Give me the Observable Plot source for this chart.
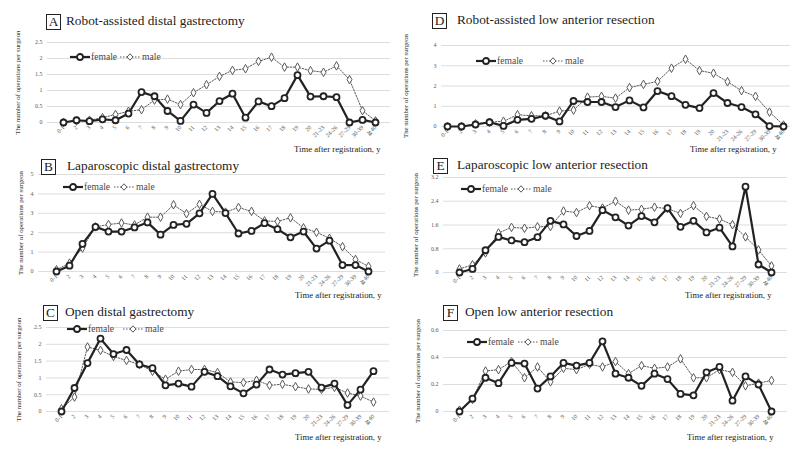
<!DOCTYPE html>
<html>
<head>
<meta charset="utf-8">
<script src="https://cdn.jsdelivr.net/npm/d3@7"></script>
<script src="https://cdn.jsdelivr.net/npm/@observablehq/plot@0.6"></script>
<style>
  html, body { margin: 0; padding: 0; background: white; }
  #root { position: relative; width: 800px; height: 450px; overflow: hidden; font-family: "Liberation Serif", "Times New Roman", serif; color: #222; }
  #root svg, #root svg text { font-family: "Liberation Serif", "Times New Roman", serif !important; }
  .tbox { position: absolute; border: 1px solid #222; width: 13px; height: 14px; font-size: 13.3px; line-height: 14px; text-align: center; }
  .ttl { position: absolute; font-size: 13.3px; line-height: 14px; white-space: nowrap; }
  .xt { position: absolute; font-size: 8.7px; line-height: 9px; white-space: nowrap; color: #222; }
  .leg { position: absolute; display: flex; align-items: center; font-family: "Liberation Serif", serif; font-weight: normal; font-size: 9.6px; line-height: 10px; white-space: nowrap; color: #4a4a4a; }
  .plot-wrap { position: absolute; }
</style>
</head>
<body>
<div id="root"></div>
<script>
const cats = ["0-1","2","3","4","5","6","7","8","9","10","11","12","13","14","15","16","17","18","19","20","21-23","24-26","27-29","30-39","≧40"];

const aFemale = [0,0.07,0.04,0.1,0.07,0.28,0.95,0.82,0.36,0.05,0.56,0.3,0.67,0.9,0.15,0.66,0.51,0.76,1.48,0.81,0.82,0.79,0,0.08,0];
const aMale   = [0,0.05,0.07,0.15,0.25,0.35,0.4,0.7,0.73,0.56,0.93,1.18,1.44,1.63,1.68,1.91,2.04,1.73,1.73,1.62,1.57,1.77,1.34,0.37,0.05];

const bFemale = [0,0.3,1.42,2.3,2.06,2.06,2.27,2.53,1.9,2.4,2.46,3.0,4.0,3.01,1.96,2.09,2.49,2.18,1.76,2.06,1.18,1.59,0.33,0.33,0];
const bMale   = [0.09,0.43,1.21,2.3,2.42,2.5,2.4,2.8,2.8,3.44,2.98,3.46,3.1,3.06,3.3,3.1,2.61,2.58,2.77,2.25,2.02,1.71,1.28,0.62,0.26];

const cFemale = [0,0.7,1.44,2.17,1.71,1.83,1.4,1.29,0.78,0.83,0.74,1.18,1.05,0.75,0.54,0.8,1.25,1.1,1.14,1.18,0.71,0.83,0.19,0.65,1.2];
const cMale   = [0.08,0.43,1.92,1.82,1.64,1.52,1.4,1.2,0.96,1.2,1.25,1.25,1.16,0.88,0.86,0.93,0.78,0.81,0.74,0.67,0.66,0.72,0.55,0.46,0.28];

const dFemale = [0,0,0.1,0.21,0.03,0.33,0.38,0.53,0.25,1.26,1.21,1.21,0.96,1.29,0.94,1.75,1.5,1.07,0.91,1.65,1.16,0.96,0.6,0.02,0];
const dMale   = [0,0,0.13,0.21,0.26,0.58,0.53,0.53,0.76,0.81,1.45,1.49,1.4,1.92,2.08,2.23,2.88,3.32,2.76,2.63,2.21,1.77,1.49,0.71,0.07];

const eFemale = [0,0.12,0.75,1.2,1.08,1.02,1.19,1.74,1.62,1.23,1.4,2.1,1.86,1.58,1.9,1.69,2.17,1.54,1.74,1.35,1.51,0.88,2.89,0.27,0];
const eMale   = [0.12,0.26,0.66,1.33,1.52,1.49,1.54,1.55,2.07,2.02,2.25,2.17,2.4,2.1,2.13,2.2,2.15,1.99,2.25,1.89,1.8,1.61,1.2,0.76,0.22];

const fFemale = [0,0.095,0.25,0.21,0.36,0.355,0.17,0.26,0.36,0.34,0.36,0.52,0.28,0.25,0.19,0.28,0.24,0.13,0.12,0.29,0.33,0.08,0.26,0.2,0];
const fMale   = [0.01,0.09,0.3,0.31,0.37,0.25,0.33,0.22,0.32,0.31,0.35,0.33,0.37,0.28,0.34,0.32,0.33,0.39,0.25,0.25,0.31,0.29,0.19,0.21,0.23];

const aTicks = [0,0.5,1,1.5,2,2.5];
const bTicks = [0,1,2,3,4,5];
const cTicks = [0,0.5,1,1.5,2,2.5];
const dTicks = [0,1,2,3,4];
const eTicks = [0,0.8,1.6,2.4,3.2];
const fTicks = [0,0.2,0.4,0.6];

const titles = {
  A: "Robot-assisted distal gastrectomy",
  B: "Laparoscopic distal gastrectomy",
  C: "Open distal gastrectomy",
  D: "Robot-assisted low anterior resection",
  E: "Laparoscopic low anterior resection",
  F: "Open low anterior resection"
};
const yTitle = "The number of operations per surgeon";
const xTitle = "Time after registration, y";

const panels = [
  {key:"A", female:aFemale, male:aMale, ticks:aTicks, left:0,   top:0,   h:150, mL:47, mR:10, mT:42, mB:28, inL:5, inR:5, yt:17,
   box:[46,14], ttl:[66,14], xt:[294,145], leg:[70,57,3]},
  {key:"B", female:bFemale, male:bMale, ticks:bTicks, left:0,   top:145, h:150, mL:38, mR:15, mT:29, mB:24, inL:7, inR:7, yt:20,
   box:[41,159], ttl:[67,159], xt:[295,291], leg:[63,187,4]},
  {key:"C", female:cFemale, male:cMale, ticks:cTicks, left:0,   top:295, h:155, mL:46, mR:11, mT:32, mB:39, inL:5, inR:6, yt:18,
   box:[43,305], ttl:[65,305], xt:[295,433], leg:[67,329,9]},
  {key:"D", female:dFemale, male:dMale, ticks:dTicks, left:400, top:0,   h:150, mL:41, mR:10, mT:45, mB:24, inL:5, inR:6, yt:5,
   box:[432,13], ttl:[457,13], xt:[690,145], leg:[476,61,20]},
  {key:"E", female:eFemale, male:eMale, ticks:eTicks, left:400, top:145, h:150, mL:43, mR:13, mT:32, mB:23, inL:6, inR:7, yt:15,
   box:[433,158], ttl:[457,158], xt:[685,291], leg:[461,189,3]},
  {key:"F", female:fFemale, male:fMale, ticks:fTicks, left:400, top:295, h:155, mL:43, mR:13, mT:35, mB:39, inL:6, inR:6, yt:17,
   box:[443,305], ttl:[465,305], xt:[687,433], leg:[467,342,4]}
];

const root = document.getElementById("root");

function el(cls, text, x, y) {
  const d = document.createElement("div");
  d.className = cls;
  if (text != null) d.textContent = text;
  d.style.left = x + "px";
  d.style.top = y + "px";
  root.appendChild(d);
  return d;
}

function legendSym(kind) {
  const ns = "http://www.w3.org/2000/svg";
  const s = document.createElementNS(ns, "svg");
  s.setAttribute("width", 20); s.setAttribute("height", 10);
  s.style.overflow = "visible";
  if (kind === "female") {
    s.innerHTML = '<line x1="0" y1="5" x2="20" y2="5" stroke="#222" stroke-width="2.2"/><circle cx="10" cy="5" r="3" fill="white" stroke="#222" stroke-width="1.8"/>';
  } else {
    s.innerHTML = '<line x1="0" y1="5" x2="20" y2="5" stroke="#595959" stroke-width="1" stroke-dasharray="1.5,1.5"/><path d="M10,1.8L13,5L10,8.2L7,5Z" fill="white" stroke="#595959" stroke-width="1"/>';
  }
  return s;
}

for (const p of panels) {
  const fem = cats.map((c, i) => ({cat: c, v: p.female[i]}));
  const mal = cats.map((c, i) => ({cat: c, v: p.male[i]}));
  const yMax = p.ticks[p.ticks.length - 1];
  const chart = Plot.plot({
    width: 400,
    height: p.h,
    marginLeft: p.mL, marginRight: p.mR, marginTop: p.mT, marginBottom: p.mB,
    style: {background: "transparent", overflow: "visible", fontFamily: "Liberation Serif, serif"},
    x: {type: "point", domain: cats, padding: 0, insetLeft: p.inL, insetRight: p.inR},
    y: {domain: [0, yMax]},
    marks: [
      Plot.ruleY(p.ticks, {stroke: "#d9d9d9", strokeWidth: 0.9}),
      Plot.axisY({ticks: p.ticks, tickSize: 0, tickPadding: 5, fontSize: 6, fill: "#595959", label: null, tickFormat: d => String(d)}),
      Plot.axisX({tickRotate: -45, tickSize: 0, tickPadding: 4, fontSize: 6, fill: "#595959", label: null}),
      Plot.line(mal, {x: "cat", y: "v", stroke: "#595959", strokeWidth: 1, strokeDasharray: "1.5,1.5"}),
      Plot.dot(mal, {x: "cat", y: "v", symbol: "diamond", r: 2.6, stroke: "#595959", strokeWidth: 1, fill: "white"}),
      Plot.line(fem, {x: "cat", y: "v", stroke: "#222", strokeWidth: 2.2}),
      Plot.dot(fem, {x: "cat", y: "v", r: 3, stroke: "#222", strokeWidth: 1.8, fill: "white"}),
      Plot.text([yTitle], {frameAnchor: "left", textAnchor: "middle", lineAnchor: "middle", rotate: -90, dx: p.yt - p.mL, fontSize: 6.8, fill: "#333"})
    ]
  });
  const wrap = el("plot-wrap", null, p.left, p.top);
  wrap.appendChild(chart);

  el("tbox", p.key, p.box[0], p.box[1]);
  el("ttl", titles[p.key], p.ttl[0], p.ttl[1]);
  el("xt", xTitle, p.xt[0], p.xt[1]);

  const lg = el("leg", null, p.leg[0], p.leg[1] - 5);
  lg.appendChild(legendSym("female"));
  const t1 = document.createElement("span"); t1.textContent = "female"; t1.style.marginLeft = "1px"; lg.appendChild(t1);
  const s2 = legendSym("male"); s2.style.marginLeft = p.leg[2] + "px"; lg.appendChild(s2);
  const t2 = document.createElement("span"); t2.textContent = "male"; t2.style.marginLeft = "2px"; lg.appendChild(t2);
}
</script>
</body>
</html>
